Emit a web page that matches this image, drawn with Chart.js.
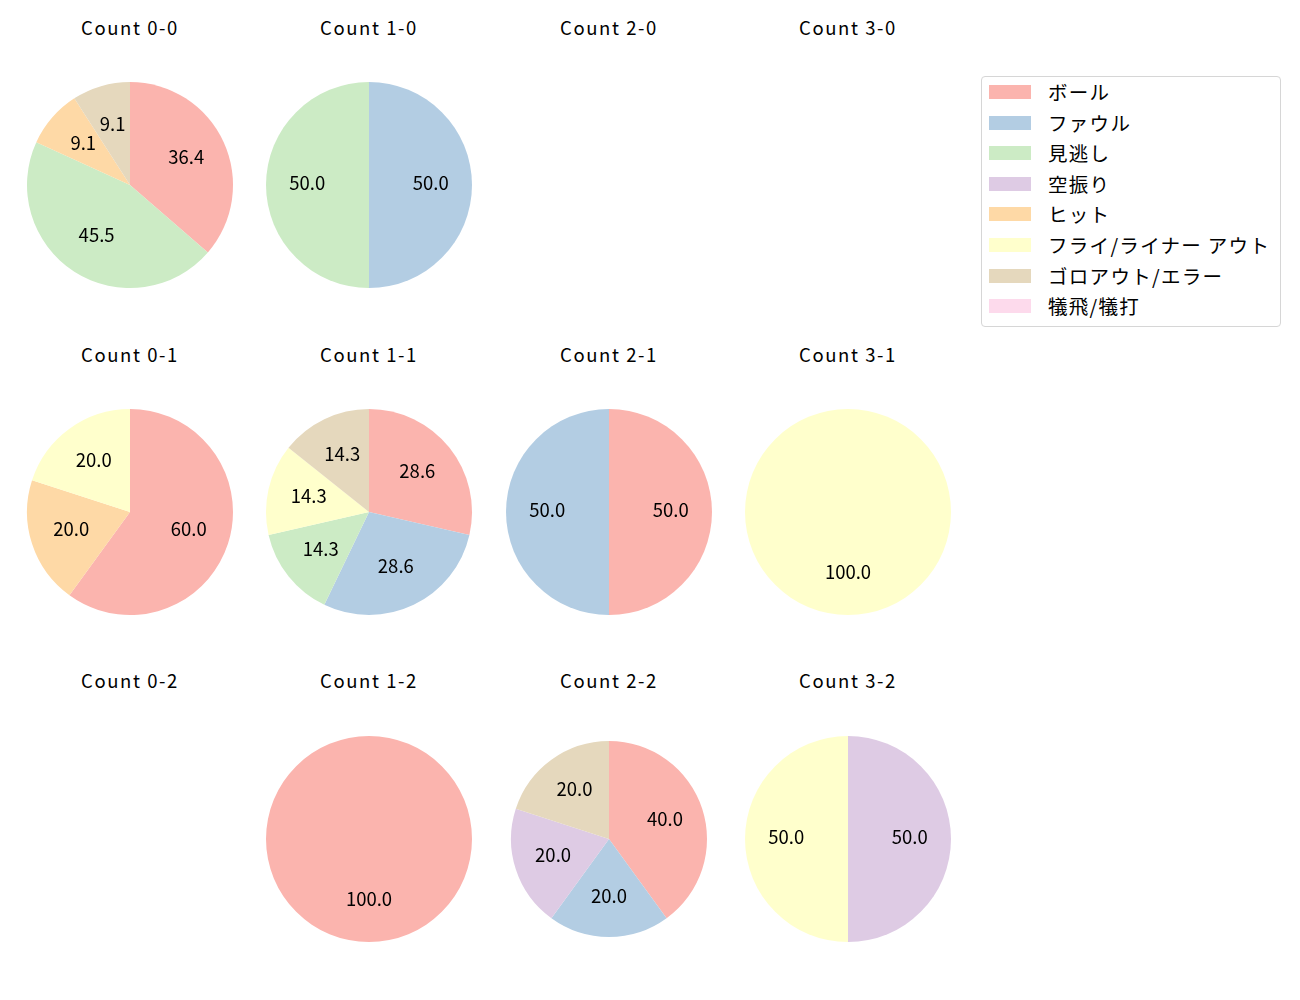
<!DOCTYPE html>
<html>
<head>
<meta charset="utf-8">
<script src="https://cdn.jsdelivr.net/npm/chart.js@4/dist/chart.umd.min.js"></script>
<style>
  body { margin: 0; background: #fff; font-family: "Noto Sans CJK JP", sans-serif; }
  #wrap { position: relative; width: 1300px; height: 1000px; }
  .title { position: absolute; width: 200px; text-align: center; font-size: 18.5px; letter-spacing: 1.6px; color: #000; line-height: 24px; }
  .cell { position: absolute; width: 224px; height: 224px; }
  #legend { position: absolute; left: 981px; top: 76px; width: 300px; height: 251px;
            border: 1px solid #d6d6d6; border-radius: 4px; box-sizing: border-box; }
  .item { position: absolute; left: 7px; height: 26px; font-size: 19.5px; letter-spacing: 1.3px; line-height: 26px; }
  .sw { position: absolute; left: 0; top: 6px; width: 42px; height: 14px; }
  .lab { position: absolute; left: 59px; top: 0; white-space: nowrap; }
</style>
</head>
<body>
<div id="wrap"><div id="legend"></div></div>
<script>
const outcomes = ['ボール', 'ファウル', '見逃し', '空振り', 'ヒット', 'フライ/ライナー アウト', 'ゴロアウト/エラー', '犠飛/犠打'];
const colors = ['#fbb4ae', '#b3cde3', '#ccebc5', '#decbe4', '#fed9a6', '#ffffcc', '#e5d8bd', '#fddaec'];

const counts = ['0-0', '1-0', '2-0', '3-0', '0-1', '1-1', '2-1', '3-1', '0-2', '1-2', '2-2', '3-2'];
// pitches per outcome, same order as outcomes
const count_0_0 = [4, 0, 5, 0, 1, 0, 1, 0];
const count_1_0 = [0, 1, 1, 0, 0, 0, 0, 0];
const count_2_0 = [0, 0, 0, 0, 0, 0, 0, 0];
const count_3_0 = [0, 0, 0, 0, 0, 0, 0, 0];
const count_0_1 = [3, 0, 0, 0, 1, 1, 0, 0];
const count_1_1 = [2, 2, 1, 0, 0, 1, 1, 0];
const count_2_1 = [1, 1, 0, 0, 0, 0, 0, 0];
const count_3_1 = [0, 0, 0, 0, 0, 1, 0, 0];
const count_0_2 = [0, 0, 0, 0, 0, 0, 0, 0];
const count_1_2 = [1, 0, 0, 0, 0, 0, 0, 0];
const count_2_2 = [2, 1, 0, 1, 0, 0, 1, 0];
const count_3_2 = [0, 0, 0, 1, 0, 1, 0, 0];
const countData = [count_0_0, count_1_0, count_2_0, count_3_0, count_0_1, count_1_1,
                   count_2_1, count_3_1, count_0_2, count_1_2, count_2_2, count_3_2];

const colX = [130, 369, 609, 848];
const rowY = [185, 512, 839];
const titleY = [29, 356, 682];

// percent labels at 0.6 of the radius, like autopct
const pctLabels = {
  id: 'pctLabels',
  afterDatasetsDraw(chart) {
    const ctx = chart.ctx;
    const data = chart.data.datasets[0].data;
    const total = data.reduce((a, b) => a + b, 0);
    chart.getDatasetMeta(0).data.forEach((arc, i) => {
      if (!data[i]) return;
      const mid = (arc.startAngle + arc.endAngle) / 2;
      const r = arc.outerRadius * 0.6;
      ctx.save();
      ctx.fillStyle = '#000';
      ctx.font = '18.5px "Noto Sans CJK JP", sans-serif';
      ctx.textAlign = 'center';
      ctx.textBaseline = 'middle';
      ctx.fillText((data[i] / total * 100).toFixed(1), arc.x + Math.cos(mid) * r, arc.y + Math.sin(mid) * r - 2);
      ctx.restore();
    });
  }
};

const wrap = document.getElementById('wrap');
counts.forEach((c, k) => {
  const col = k % 4, row = Math.floor(k / 4);
  const t = document.createElement('div');
  t.className = 'title';
  t.textContent = 'Count ' + c;
  t.style.left = (colX[col] - 100) + 'px';
  t.style.top = (titleY[row] - 14) + 'px';
  wrap.appendChild(t);

  const vals = countData[k];
  if (vals.reduce((a, b) => a + b, 0) === 0) return;
  const box = document.createElement('div');
  box.className = 'cell';
  box.style.left = (colX[col] - 112) + 'px';
  box.style.top = (rowY[row] - 112) + 'px';
  const cv = document.createElement('canvas');
  box.appendChild(cv);
  wrap.appendChild(box);

  new Chart(cv, {
    type: 'pie',
    data: {
      labels: outcomes,
      datasets: [{ data: vals, backgroundColor: colors, borderWidth: 0 }]
    },
    options: {
      responsive: true,
      maintainAspectRatio: false,
      animation: false,
      radius: c === '2-2' ? 98 : 103,
      plugins: { legend: { display: false }, tooltip: { enabled: false } }
    },
    plugins: [pctLabels]
  });
});

const legend = document.getElementById('legend');
outcomes.forEach((name, i) => {
  const it = document.createElement('div');
  it.className = 'item';
  it.style.top = (2 + i * 30.6) + 'px';
  it.innerHTML = '<span class="sw" style="background:' + colors[i] + '"></span><span class="lab">' + name + '</span>';
  legend.appendChild(it);
});
</script>
</body>
</html>
